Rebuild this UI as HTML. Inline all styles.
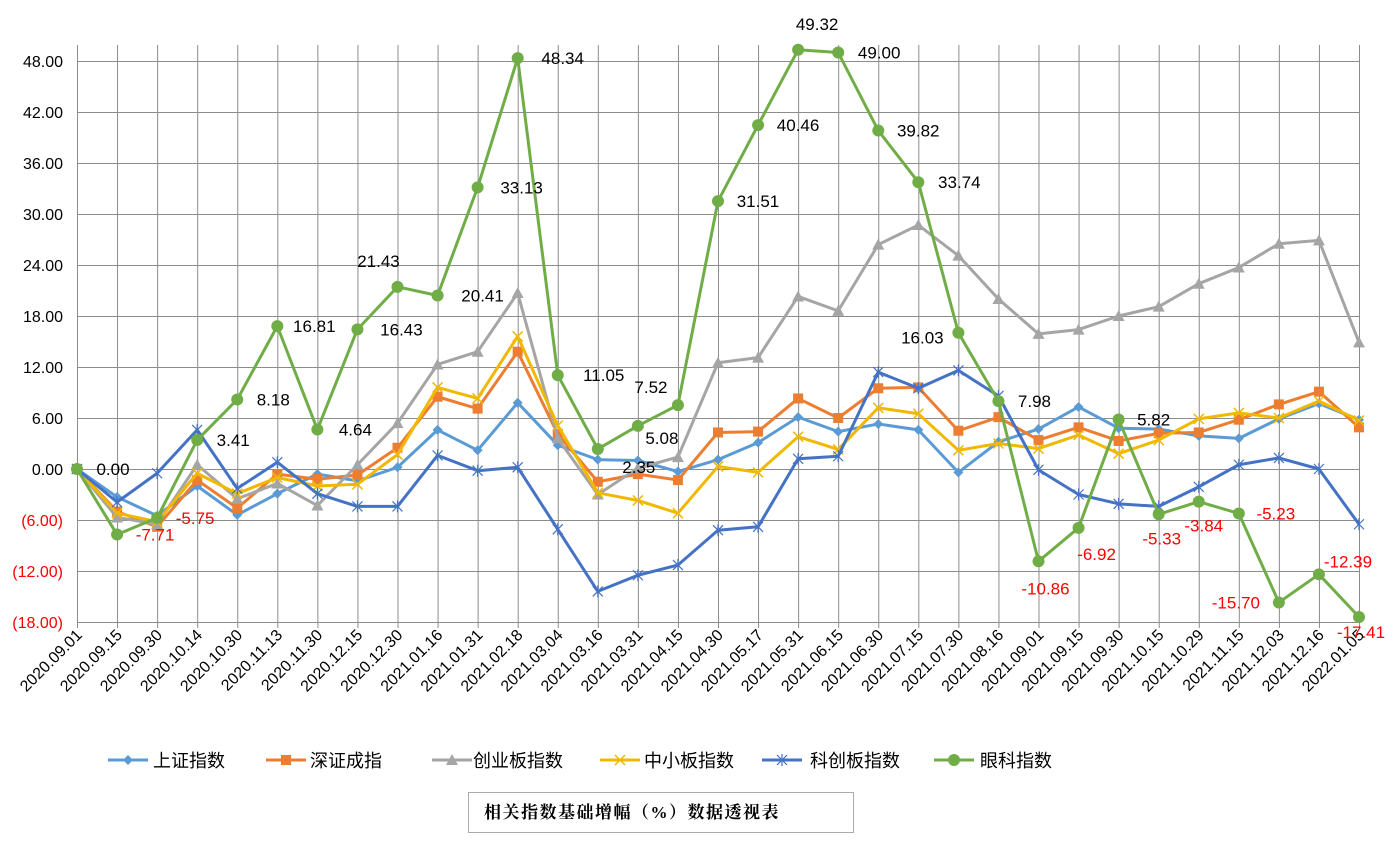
<!DOCTYPE html>
<html><head><meta charset="utf-8"><style>
body{margin:0;background:#fff;}
svg{display:block;font-family:"Liberation Sans","Noto Sans CJK SC",sans-serif;}
</style></head><body>
<svg id="chart" width="1397" height="843" viewBox="0 0 1397 843">
<g id="grid"></g>
<g id="yaxis"></g>
<g id="xaxis"></g>
<g id="series"></g>
<g id="labels"></g>
<g id="legend"></g>
<g>
<rect x="468.5" y="792.5" width="385" height="40" fill="#fff" stroke="#aaa"/>
<text x="484" y="818" font-size="17" font-weight="bold" font-family="'Liberation Serif','Noto Serif CJK SC',serif" letter-spacing="1.5">相关指数基础增幅（%）数据透视表</text>
</g>
</svg>
<script>
const categories=["2020.09.01","2020.09.15","2020.09.30","2020.10.14","2020.10.30","2020.11.13","2020.11.30","2020.12.15","2020.12.30","2021.01.16","2021.01.31","2021.02.18","2021.03.04","2021.03.16","2021.03.31","2021.04.15","2021.04.30","2021.05.17","2021.05.31","2021.06.15","2021.06.30","2021.07.15","2021.07.30","2021.08.16","2021.09.01","2021.09.15","2021.09.30","2021.10.15","2021.10.29","2021.11.15","2021.12.03","2021.12.16","2022.01.05"];
const shangzheng=[0,-3.3,-5.5,-2.0,-5.4,-2.9,-0.6,-1.4,0.2,4.6,2.2,7.8,2.8,1.1,1.0,-0.3,1.1,3.1,6.1,4.4,5.3,4.6,-0.4,3.2,4.7,7.3,4.8,4.7,3.9,3.6,5.9,7.7,5.8];
const shenzheng=[0,-5.0,-6.8,-1.3,-4.6,-0.6,-1.2,-0.7,2.5,8.5,7.1,13.8,4.1,-1.5,-0.6,-1.3,4.3,4.4,8.3,6.0,9.5,9.6,4.5,6.1,3.4,4.9,3.3,4.2,4.3,5.8,7.6,9.1,4.9];
const chuangye=[0,-5.7,-6.5,0.5,-3.5,-1.7,-4.3,0.5,5.4,12.3,13.8,20.7,3.6,-3.0,0.1,1.4,12.5,13.1,20.3,18.6,26.4,28.7,25.1,20.0,15.9,16.4,18.0,19.1,21.8,23.7,26.5,26.9,14.9];
const zhongxiao=[0,-5.2,-6.2,-0.5,-2.9,-1.0,-2.0,-1.8,1.7,9.6,8.3,15.6,5.1,-2.8,-3.7,-5.2,0.3,-0.4,3.8,2.3,7.2,6.5,2.2,3.0,2.4,4.0,1.8,3.4,5.9,6.6,6.0,8.0,5.7];
const kechuang=[0,-3.9,-0.5,4.6,-2.3,0.8,-2.9,-4.4,-4.4,1.6,-0.2,0.2,-7.1,-14.4,-12.5,-11.3,-7.2,-6.8,1.2,1.5,11.4,9.5,11.6,8.6,-0.1,-3.0,-4.1,-4.4,-2.1,0.5,1.3,0.0,-6.5];
const yanke=[0,-7.71,-5.75,3.41,8.18,16.81,4.64,16.43,21.43,20.41,33.13,48.34,11.05,2.35,5.08,7.52,31.51,40.46,49.32,49.00,39.82,33.74,16.03,7.98,-10.86,-6.92,5.82,-5.33,-3.84,-5.23,-15.70,-12.39,-17.41];
const yTicks=[48,42,36,30,24,18,12,6,0,-6,-12,-18];
const seriesNames=["上证指数","深证成指","创业板指数","中小板指数","科创板指数","眼科指数"];
const labelOffsets=[[36,0],[38,0],[38,0],[36,0],[36,0],[37,0],[38,0],[44,0],[-19,-26],[45,0],[44,0],[45,0],[46,0],[41,18],[24,12],[-27,-18],[40,0],[40,0],[19,-26],[41,0],[40,0],[41,0],[-36,5],[36,0],[7,27],[18,26],[35,0],[3,24],[5,24],[37,0],[-43,0],[29,-13],[2,15]];

const NS="http://www.w3.org/2000/svg";
const X0=77,X1=1359,Y0=469,PPU=8.5,TOP=45;
const xs=i=>X0+(X1-X0)*i/(categories.length-1);
const ys=v=>Y0-v*PPU;
function mk(tag,attrs,parent){const e=document.createElementNS(NS,tag);for(const k in attrs)e.setAttribute(k,attrs[k]);parent.appendChild(e);return e;}
const grid=document.getElementById('grid'),yax=document.getElementById('yaxis'),xax=document.getElementById('xaxis');
yTicks.forEach(t=>{
  const l=mk('line',{x1:X0,x2:X1,y1:ys(t)+0.5,y2:ys(t)+0.5,stroke:'#8c8c8c','stroke-width':1},grid);
  
  
  const tx=mk('text',{x:63,y:ys(t)+6,'text-anchor':'end','font-size':16,fill:t<0?'#ff0000':'#000'},yax);
  
  
  tx.textContent=t<0?'('+Math.abs(t).toFixed(2)+')':t.toFixed(2);
});
categories.forEach((c,i)=>{
  const l=mk('line',{x1:xs(i)+0.5,x2:xs(i)+0.5,y1:TOP,y2:ys(-18)+6,stroke:'#8c8c8c','stroke-width':1},grid);
  
  
  const tx=mk('text',{x:xs(i)+6,y:ys(-18)+14,'text-anchor':'end','font-size':16,transform:`rotate(-45 ${xs(i)+6} ${ys(-18)+14})`},xax);
  
  
  tx.textContent=c;
});
const allSeries=[shangzheng,shenzheng,chuangye,zhongxiao,kechuang,yanke];
const colors=['#5B9BD5','#ED7D31','#A5A5A5','#F0B800','#4472C4','#70AD47'];
const markers=['diamond','square','triangle','x','star','circle'];
function marker(g,type,x,y,c,name){
  let e;
  if(type==='diamond')e=mk('polygon',{points:`${x},${y-5} ${x+5},${y} ${x},${y+5} ${x-5},${y}`,fill:c},g);
  else if(type==='square')e=mk('rect',{x:x-5,y:y-5,width:10,height:10,fill:c},g);
  else if(type==='triangle')e=mk('polygon',{points:`${x},${y-6} ${x+6},${y+5} ${x-6},${y+5}`,fill:c},g);
  else if(type==='x')e=mk('path',{d:`M${x-5} ${y-5}L${x+5} ${y+5}M${x-5} ${y+5}L${x+5} ${y-5}`,stroke:c,'stroke-width':1.5},g);
  else if(type==='star')e=mk('path',{d:`M${x-5} ${y-5}L${x+5} ${y+5}M${x-5} ${y+5}L${x+5} ${y-5}M${x} ${y-6}L${x} ${y+6}`,stroke:c,'stroke-width':1.2},g);
  else e=mk('circle',{cx:x,cy:y,r:6,fill:c},g);
  
  
}
const sg=document.getElementById('series');
allSeries.forEach((s,k)=>{
  const g=mk('g',{},sg);
  
  
  const p=mk('polyline',{points:s.map((v,i)=>xs(i)+','+ys(v)).join(' '),fill:'none',stroke:colors[k],'stroke-width':3,'stroke-linejoin':'round'},g);
  
  
  s.forEach((v,i)=>marker(g,markers[k],xs(i),ys(v),colors[k],'data-point'));
});
const lg=document.getElementById('labels');
yanke.forEach((v,i)=>{
  const o=labelOffsets[i];
  const t=mk('text',{x:xs(i)+o[0],y:ys(v)+o[1]+6,'text-anchor':'middle','font-size':17,fill:v<0?'#ff0000':'#000'},lg);
  
  
  t.textContent=v.toFixed(2);
});
const leg=document.getElementById('legend');
const legX=[108,266,432,600,762,934],legT=[153,310,473,644,810,980];
seriesNames.forEach((n,k)=>{
  const g=mk('g',{},leg);
  
  
  const l=mk('line',{x1:legX[k],x2:legX[k]+40,y1:760,y2:760,stroke:colors[k],'stroke-width':3},g);
  
  
  marker(g,markers[k],legX[k]+20,760,colors[k],'legend-marker');
  const t=mk('text',{x:legT[k],y:767,'font-size':18},g);
  
  
  t.textContent=n;
});
</script>
</body></html>
